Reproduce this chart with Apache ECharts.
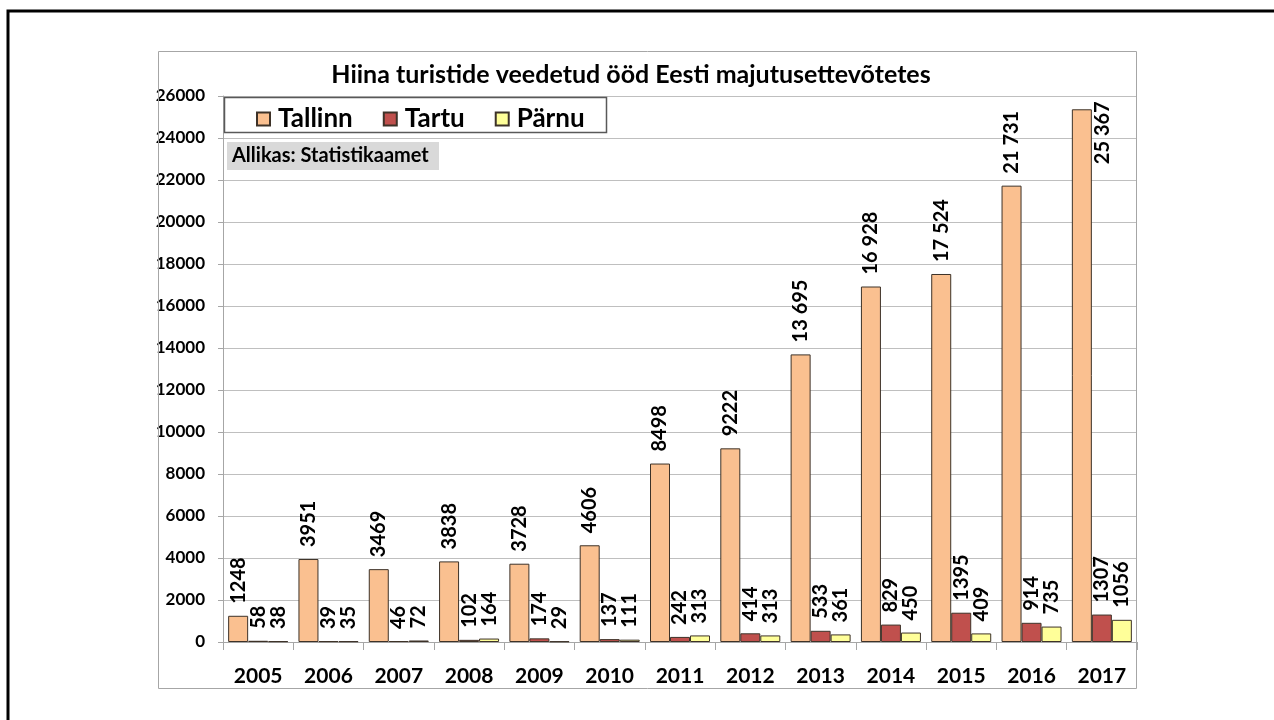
<!DOCTYPE html>
<html>
<head>
<meta charset="utf-8">
<script src="https://cdn.jsdelivr.net/npm/echarts@6/dist/echarts.min.js"></script>
<style>
  html, body { margin: 0; padding: 0; background: #fff; }
  #chart { width: 1274px; height: 720px; }
</style>
</head>
<body>
<div id="chart"></div>
<script>
const years = ['2005', '2006', '2007', '2008', '2009', '2010', '2011', '2012', '2013', '2014', '2015', '2016', '2017'];
const tallinn = [1248, 3951, 3469, 3838, 3728, 4606, 8498, 9222, 13695, 16928, 17524, 21731, 25367];
const tartu = [58, 39, 46, 102, 174, 137, 242, 414, 533, 829, 1395, 914, 1307];
const parnu = [38, 35, 72, 164, 29, 111, 313, 313, 361, 450, 409, 735, 1056];
const yTicks = { min: 0, max: 26000, step: 2000 };

const font = 'Lato, "Open Sans", sans-serif';
const chart = echarts.init(document.getElementById('chart'));

// Excel wrote values over 10 000 with a space separator
function fmt(v) {
    return v >= 10000 ? String(v).replace(/(\d)(?=(\d{3})$)/, '$1 ') : String(v);
}

const labelBase = {
    show: true,
    position: 'top',
    rotate: 90,
    align: 'left',
    verticalAlign: 'middle',
    distance: 12,
    fontFamily: font,
    fontWeight: 'bold',
    fontSize: 20,
    color: '#000',
    formatter: p => fmt(p.value)
};

function makeSeries(name, values, color) {
    return {
        name: name,
        type: 'bar',
        barWidth: 20,
        barGap: '0%',
        itemStyle: { color: color, borderColor: '#3d3228', borderWidth: 1 },
        label: labelBase,
        data: values.slice()
    };
}

const tallinnSeries = makeSeries('Tallinn', tallinn, '#FAC090');
// last label would overflow the top, so Excel moved it beside the bar
tallinnSeries.data[tallinn.length - 1] = {
    value: tallinn[tallinn.length - 1],
    label: { position: [31, -8], align: 'right' }
};

const option = {
    animation: false,
    backgroundColor: '#fff',
    title: {
        text: 'Hiina turistide veedetud ööd Eesti majutusettevõtetes',
        left: 626,
        top: 57,
        textAlign: 'center',
        textStyle: { fontFamily: font, fontWeight: 'bold', fontSize: 25, color: '#000' }
    },
    graphic: [
        { type: 'rect', z: 1, shape: { x: 8, y: 11, width: 1300, height: 800 },
          style: { fill: null, stroke: '#000', lineWidth: 3 } },
        { type: 'rect', z: 1, shape: { x: 158.5, y: 51.5, width: 978, height: 637 },
          style: { fill: null, stroke: '#a6a6a6', lineWidth: 1 } },
        { type: 'rect', z: 50, shape: { x: 224.5, y: 97.5, width: 382, height: 35 },
          style: { fill: '#fff', stroke: '#595959', lineWidth: 1.5 } },
        { type: 'rect', z: 50, shape: { x: 227, y: 142, width: 212, height: 28 },
          style: { fill: '#d9d9d9' } },
        { type: 'text', z: 51, x: 232, y: 156,
          style: { text: 'Allikas: Statistikaamet', fill: '#000', font: 'bold 20px ' + font, verticalAlign: 'middle' } }
    ],
    legend: {
        z: 60,
        left: 251,
        top: 101,
        icon: 'rect',
        itemWidth: 13,
        itemHeight: 13,
        itemGap: 30,
        textStyle: { fontFamily: font, fontWeight: 'bold', fontSize: 26, color: '#000', padding: [0, 0, 0, 3] },
        data: ['Tallinn', 'Tartu', 'Pärnu']
    },
    grid: { left: 223, right: 137, top: 96, bottom: 78, containLabel: false },
    xAxis: {
        type: 'category',
        data: years,
        axisLine: { lineStyle: { color: '#a6a6a6', width: 1 } },
        axisTick: { show: true, length: 8, lineStyle: { color: '#a6a6a6' } },
        axisLabel: { margin: 24, fontFamily: font, fontWeight: 'bold', fontSize: 21, color: '#000' }
    },
    yAxis: {
        type: 'value',
        min: yTicks.min,
        max: yTicks.max,
        interval: yTicks.step,
        axisLine: { show: true, lineStyle: { color: '#a6a6a6', width: 1 } },
        axisTick: { show: true, length: 5, lineStyle: { color: '#a6a6a6' } },
        splitLine: { lineStyle: { color: '#bfbfbf', width: 1 } },
        axisLabel: { margin: 18, fontFamily: font, fontWeight: 'bold', fontSize: 17, color: '#000', formatter: v => String(v) }
    },
    series: [
        tallinnSeries,
        makeSeries('Tartu', tartu, '#C0504D'),
        makeSeries('Pärnu', parnu, '#FFFF99')
    ]
};

chart.setOption(option);
</script>
</body>
</html>
